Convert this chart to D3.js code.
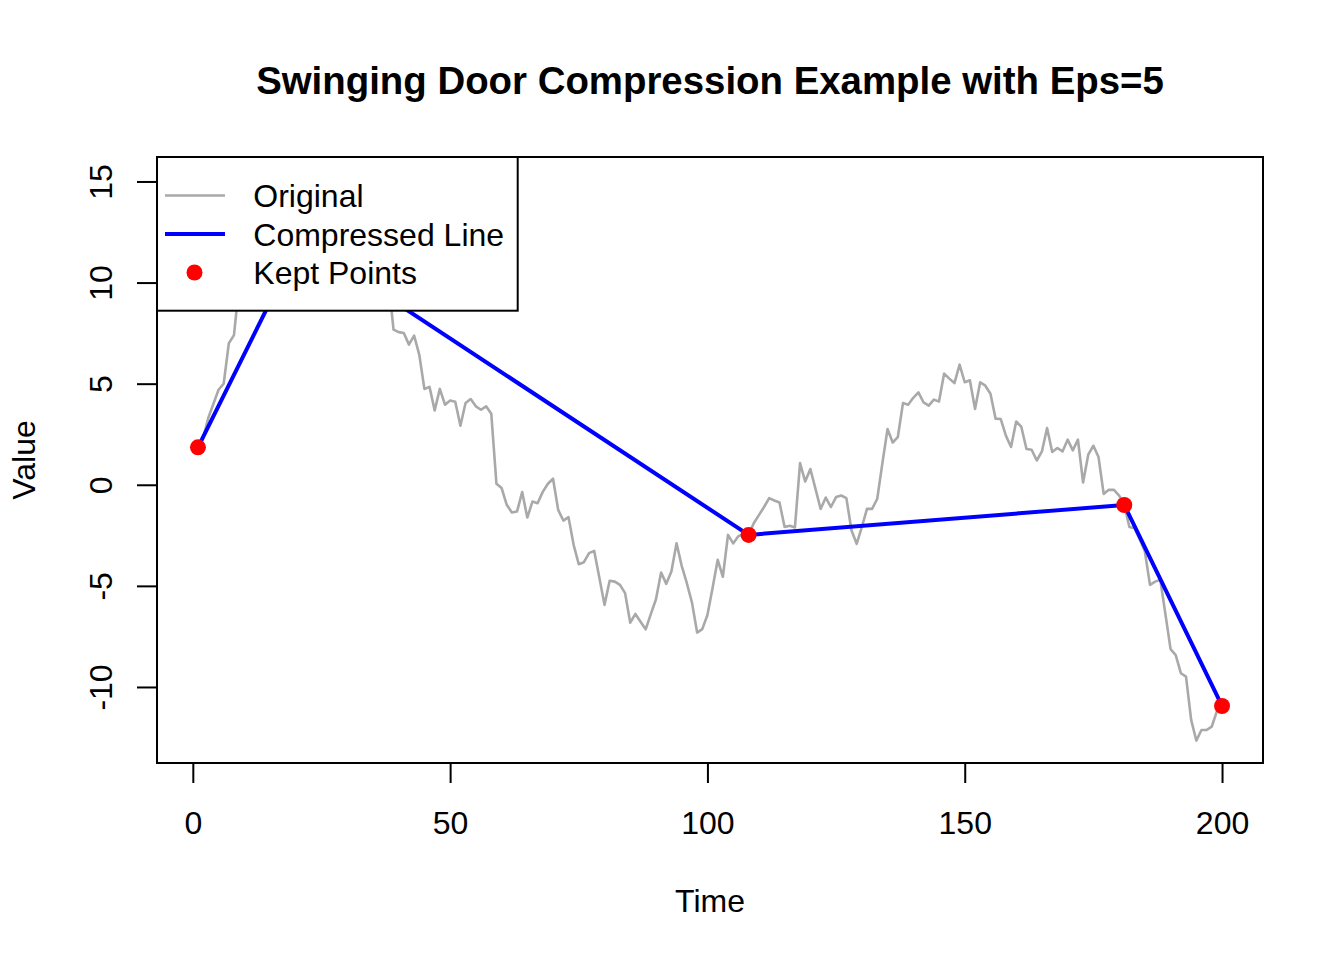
<!DOCTYPE html>
<html>
<head>
<meta charset="utf-8">
<script src="https://cdn.jsdelivr.net/npm/d3@7"></script>
<style>
  body { margin: 0; background: white; }
  text { font-family: "Liberation Sans", Arial, Helvetica, sans-serif; }
</style>
</head>
<body>
<div class="chart"></div>
<script>
// Original series, value at time 1..200 (10 per row)
const values = [
  1.85, 2.3, 3.3, 4.0, 4.7, 5.0, 7.0, 7.4, 9.9, 10.6,
  11.4, 10.9, 12.3, 13.0, 12.5, 13.6, 14.4, 13.9, 15.1, 13.8,
  12.1, 12.9, 13.5, 12.7, 13.3, 12.2, 12.8, 11.9, 12.4, 11.6,
  12.1, 11.3, 10.8, 11.5, 10.7, 11.0, 10.4, 10.2, 7.67, 7.55,
  7.51, 6.93, 7.38, 6.44, 4.74, 4.84, 3.68, 4.74, 3.96, 4.17,
  4.11, 2.92, 4.04, 4.24, 3.88, 3.71, 3.88, 3.51, 0.05, -0.16,
  -0.99, -1.37, -1.32, -0.36, -1.62, -0.83, -0.91, -0.35, 0.05, 0.30,
  -1.24, -1.77, -1.60, -2.97, -3.93, -3.83, -3.38, -3.27, -4.6, -5.94,
  -4.75, -4.79, -4.95, -5.36, -6.82, -6.39, -6.77, -7.15, -6.4, -5.66,
  -4.34, -4.90, -4.29, -2.89, -4.01, -4.87, -5.83, -7.31, -7.14, -6.44,
  -5.1, -3.71, -4.55, -2.48, -2.9, -2.55, -2.45, -2.48, -1.90, -1.5,
  -1.1, -0.66, -0.78, -0.88, -2.09, -2.03, -2.11, 1.07, 0.16, 0.78,
  -0.2, -1.20, -0.63, -1.10, -0.61, -0.53, -0.66, -2.26, -2.92, -2.1,
  -1.19, -1.19, -0.69, 1.07, 2.76, 2.09, 2.36, 4.04, 3.96, 4.3,
  4.57, 4.07, 3.91, 4.21, 4.12, 5.50, 5.25, 5.03, 5.94, 5.07,
  5.17, 3.75, 5.07, 4.90, 4.50, 3.27, 3.25, 2.43, 1.87, 3.13,
  2.86, 1.77, 1.73, 1.20, 1.65, 2.81, 1.62, 1.82, 1.65, 2.23,
  1.70, 2.23, 0.11, 1.49, 1.93, 1.37, -0.45, -0.25, -0.25, -0.54,
  -1.0, -2.09, -2.15, -2.7, -3.3, -4.95, -4.79, -4.70, -6.4, -8.13,
  -8.42, -9.32, -9.49, -11.63, -12.65, -12.13, -12.13, -11.96, -11.2, -10.94
];

// Times kept by the swinging door algorithm
const keptTimes = [1, 21, 108, 181, 200];

const xTicks = [0, 50, 100, 150, 200];
const yTicks = [-10, -5, 0, 5, 10, 15];

const legendLabels = ["Original", "Compressed Line", "Kept Points"];

const gray = "#a9a9a9";
const blue = "#0000ff";
const red = "#ff0000";

document.addEventListener('DOMContentLoaded', function() {
  const width = 1344;
  const height = 960;
  const plot = {left: 157, right: 1263, top: 157, bottom: 763};

  const svg = d3.select('.chart')
      .append('svg')
      .attr('width', width)
      .attr('height', height);

  const series = values.map((v, i) => ({t: i + 1, v: v}));
  const kept = keptTimes.map(t => ({t: t, v: values[t - 1]}));

  // R style axis ranges: data extent padded by 4%
  function pad(ext) {
    const d = (ext[1] - ext[0]) * 0.04;
    return [ext[0] - d, ext[1] + d];
  }

  const x = d3.scaleLinear()
      .domain(pad(d3.extent(series, d => d.t)))
      .range([plot.left, plot.right]);

  const y = d3.scaleLinear()
      .domain(pad(d3.extent(series, d => d.v)))
      .range([plot.bottom, plot.top]);

  // Original series
  const line = d3.line()
      .x(d => x(d.t))
      .y(d => y(d.v));

  svg.append('path')
      .datum(series)
      .attr('d', line)
      .attr('fill', 'none')
      .attr('stroke', gray)
      .attr('stroke-width', 2.6)
      .attr('stroke-linejoin', 'round')
      .attr('stroke-linecap', 'round');

  // Compressed line
  svg.append('path')
      .datum(kept)
      .attr('d', line)
      .attr('fill', 'none')
      .attr('stroke', blue)
      .attr('stroke-width', 4)
      .attr('stroke-linejoin', 'round')
      .attr('stroke-linecap', 'round');

  svg.append('g')
      .selectAll('circle')
      .data(kept)
      .enter().append('circle')
      .attr('cx', d => x(d.t))
      .attr('cy', d => y(d.v))
      .attr('r', 8)
      .attr('fill', red);

  // Axes (plain hyphen for negatives, like R)
  const fmt = d => String(d);

  const xAxis = svg.append('g')
      .attr('transform', `translate(0,${plot.bottom})`)
      .call(d3.axisBottom(x).tickValues(xTicks).tickFormat(fmt).tickSize(20).tickPadding(28));
  xAxis.select('.domain').remove();
  xAxis.append('line')
      .attr('x1', x(xTicks[0]))
      .attr('x2', x(xTicks[xTicks.length - 1]))
      .attr('stroke', 'black')
      .attr('stroke-width', 2);

  const yAxis = svg.append('g')
      .attr('transform', `translate(${plot.left},0)`)
      .call(d3.axisLeft(y).tickValues(yTicks).tickFormat(fmt).tickSize(20));
  yAxis.select('.domain').remove();
  yAxis.append('line')
      .attr('y1', y(yTicks[0]))
      .attr('y2', y(yTicks[yTicks.length - 1]))
      .attr('stroke', 'black')
      .attr('stroke-width', 2);
  yAxis.selectAll('.tick text')
      .attr('x', 0)
      .attr('dy', 0)
      .attr('text-anchor', 'middle')
      .attr('transform', 'translate(-45,0) rotate(-90)');

  svg.selectAll('.tick line').attr('stroke-width', 2);
  svg.selectAll('.tick text')
      .attr('font-size', '32px')
      .attr('font-family', '"Liberation Sans", Arial, Helvetica, sans-serif')
      .attr('fill', 'black');

  // Plot box
  svg.append('rect')
      .attr('x', plot.left)
      .attr('y', plot.top)
      .attr('width', plot.right - plot.left)
      .attr('height', plot.bottom - plot.top)
      .attr('fill', 'none')
      .attr('stroke', 'black')
      .attr('stroke-width', 2);

  // Title and axis labels
  svg.append('text')
      .attr('x', (plot.left + plot.right) / 2)
      .attr('y', 93.5)
      .attr('text-anchor', 'middle')
      .attr('font-size', '38.4px')
      .attr('font-weight', 'bold')
      .text('Swinging Door Compression Example with Eps=5');

  svg.append('text')
      .attr('x', (plot.left + plot.right) / 2)
      .attr('y', 912)
      .attr('text-anchor', 'middle')
      .attr('font-size', '32px')
      .text('Time');

  svg.append('text')
      .attr('transform', `translate(35,${(plot.top + plot.bottom) / 2}) rotate(-90)`)
      .attr('text-anchor', 'middle')
      .attr('font-size', '32px')
      .text('Value');

  // Legend (top left, drawn over the data)
  const legend = svg.append('g');
  legend.append('rect')
      .attr('x', plot.left)
      .attr('y', plot.top)
      .attr('width', 360.7)
      .attr('height', 153.7)
      .attr('fill', 'white')
      .attr('stroke', 'black')
      .attr('stroke-width', 2);

  const rowY = i => 195.5 + i * 38.5;

  legend.append('line')
      .attr('x1', 165).attr('x2', 225)
      .attr('y1', rowY(0)).attr('y2', rowY(0))
      .attr('stroke', gray).attr('stroke-width', 2.6);
  legend.append('line')
      .attr('x1', 165).attr('x2', 225)
      .attr('y1', rowY(1)).attr('y2', rowY(1))
      .attr('stroke', blue).attr('stroke-width', 4);
  legend.append('circle')
      .attr('cx', 194.5).attr('cy', rowY(2))
      .attr('r', 8)
      .attr('fill', red);

  legend.selectAll('.legend-label')
      .data(legendLabels)
      .enter().append('text')
      .attr('class', 'legend-label')
      .attr('x', 253.3)
      .attr('y', (d, i) => rowY(i) + 11.5)
      .attr('font-size', '32px')
      .text(d => d);
});
</script>
</body>
</html>
